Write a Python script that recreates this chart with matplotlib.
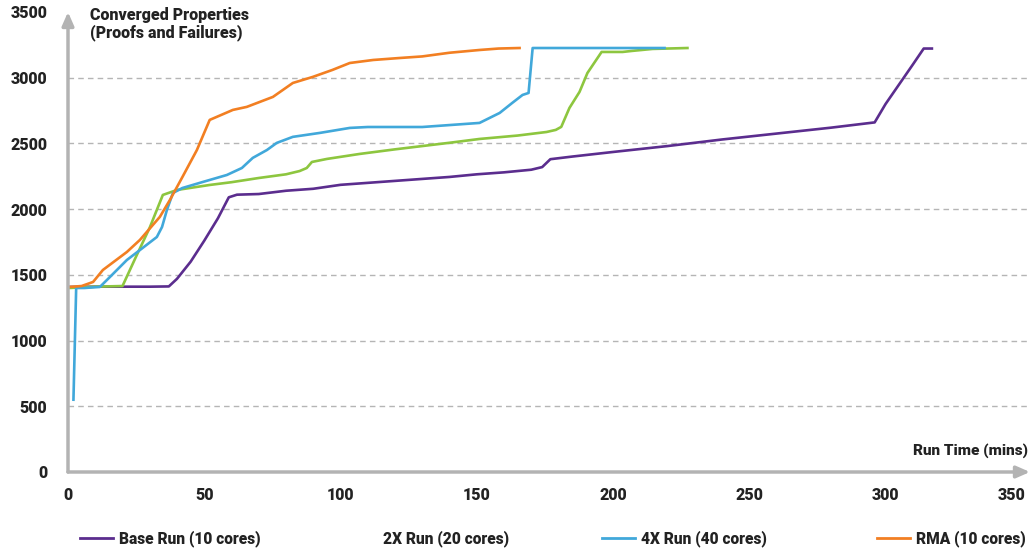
import matplotlib
matplotlib.use("Agg")
import matplotlib.pyplot as plt
from matplotlib.lines import Line2D
from matplotlib.transforms import ScaledTranslation

plt.rcParams['font.family'] = ['Roboto', 'DejaVu Sans']
plt.rcParams['font.weight'] = 'heavy'

# Data (run time in minutes, converged properties)
base_x = [0.5, 10, 20, 30, 37, 40, 45, 50, 55, 59, 62, 70, 80, 90, 100, 110, 120, 130, 140, 150, 160, 170, 174, 177, 185, 200, 220, 240, 260, 280, 290, 296, 300, 305, 310, 314, 317]
base_y = [1408, 1410, 1410, 1410, 1412, 1470, 1600, 1760, 1930, 2090, 2110, 2115, 2140, 2155, 2185, 2200, 2215, 2230, 2245, 2265, 2280, 2300, 2320, 2380, 2400, 2435, 2480, 2530, 2575, 2620, 2645, 2660, 2800, 2950, 3100, 3222, 3222]

x2_x = [0.5, 10, 20, 25, 30, 34.8, 40, 52, 60, 70, 80, 85, 87.6, 89.5, 95, 107, 120, 130, 140, 151, 165, 175.6, 179, 181, 184, 187.7, 190.6, 195.8, 203.5, 207, 214.5, 227.3]
x2_y = [1400, 1410, 1415, 1640, 1860, 2108, 2146, 2184, 2205, 2237, 2265, 2290, 2313, 2359, 2382, 2420, 2455, 2480, 2505, 2534, 2560, 2587, 2603, 2626, 2770, 2892, 3036, 3196, 3196, 3204, 3219, 3226]

x4_x = [2, 3, 6, 11.7, 15.4, 21.6, 26.4, 32.6, 34.5, 36.3, 38.5, 42, 49.5, 58.3, 63.8, 67.8, 73, 76.6, 82.5, 92.4, 103.4, 110, 130, 151, 158.4, 163, 166.8, 169, 170.5, 218.9]
x4_y = [550, 1400, 1400, 1408, 1484, 1613, 1689, 1788, 1864, 1994, 2123, 2161, 2207, 2260, 2313, 2390, 2450, 2504, 2550, 2580, 2618, 2625, 2625, 2656, 2732, 2808, 2869, 2884, 3226, 3226]

rma_x = [0.5, 5, 9.2, 12.8, 21.6, 26.4, 33.7, 37.4, 42, 47.3, 52, 60.5, 65.6, 75.2, 82.5, 89.8, 97, 103.4, 112, 121.7, 130, 140, 151, 158, 165.7]
rma_y = [1408, 1415, 1446, 1537, 1674, 1766, 1941, 2070, 2245, 2450, 2679, 2755, 2778, 2854, 2960, 3006, 3059, 3112, 3135, 3150, 3162, 3190, 3211, 3222, 3226]

labels = ["Base Run (10 cores)", "2X Run (20 cores)", "4X Run (40 cores)", "RMA (10 cores)"]
colors = ["#5B2D8E", "#8DC63F", "#41A8DA", "#F27F22"]
xticks = [0, 50, 100, 150, 200, 250, 300, 350]
yticks = [0, 500, 1000, 1500, 2000, 2500, 3000, 3500]

fig = plt.figure(figsize=(10.33, 5.5), dpi=100)
ax = fig.add_axes([68/1033, 78/550, (1030-68)/1033, (472-12)/550])

series = [(base_x, base_y), (x2_x, x2_y), (x4_x, x4_y), (rma_x, rma_y)]
for (xs, ys), c, lab in zip(series, colors, labels):
    ax.plot(xs, ys, color=c, lw=1.9, label=lab, solid_joinstyle='round')

ax.set_xlim(0, 353)
ax.set_ylim(0, 3500)
ax.set_xticks(xticks)
ax.set_yticks(yticks)
ax.tick_params(length=0, labelsize=11.5, colors="#222222")
ax.tick_params(axis='y', pad=15)
ax.tick_params(axis='x', pad=11)
for s in ax.spines.values():
    s.set_visible(False)

# keep last x tick label inside the figure
last = ax.get_xticklabels()[-1]
last.set_transform(last.get_transform() + ScaledTranslation(-10/100, 0, fig.dpi_scale_trans))

for yv in yticks[1:-1]:
    ax.axhline(yv, color="#b5b5b5", lw=1.0, ls=(0, (4, 3)), zorder=0)

# axis arrows
ax.annotate("", xy=(0, 1.0), xytext=(0, 0), xycoords='axes fraction',
            arrowprops=dict(arrowstyle="-|>,head_length=0.8,head_width=0.35", color="#b3b3b3", lw=2.5, shrinkA=0, shrinkB=0))
ax.annotate("", xy=(1.0, 0), xytext=(0, 0), xycoords='axes fraction',
            arrowprops=dict(arrowstyle="-|>,head_length=0.8,head_width=0.35", color="#b3b3b3", lw=2.5, shrinkA=0, shrinkB=0))

fig.text(90/1033, 1 - 7/550, "Converged Properties\n(Proofs and Failures)", ha='left', va='top',
         fontsize=11.5, color="#222222", linespacing=1.1)
fig.text(1028/1033, 1 - 451/550, "Run Time (mins)", ha='right', va='center',
         fontsize=11, color="#222222")

# legend entries, one per series
leg_x = [80, 344, 602, 877]
for i, (c, lab) in enumerate(zip(colors, labels)):
    h = Line2D([], [], color=(c if i != 1 else 'none'), lw=2)
    leg = fig.legend([h], [lab], loc='center left', bbox_to_anchor=(leg_x[i]/1033, 1 - 539/550),
                     frameon=False, fontsize=11.2, handlelength=2.1, handletextpad=0.4,
                     borderaxespad=0, borderpad=0)
    for t in leg.get_texts():
        t.set_color("#222222")

fig.savefig("out.png", dpi=100)
